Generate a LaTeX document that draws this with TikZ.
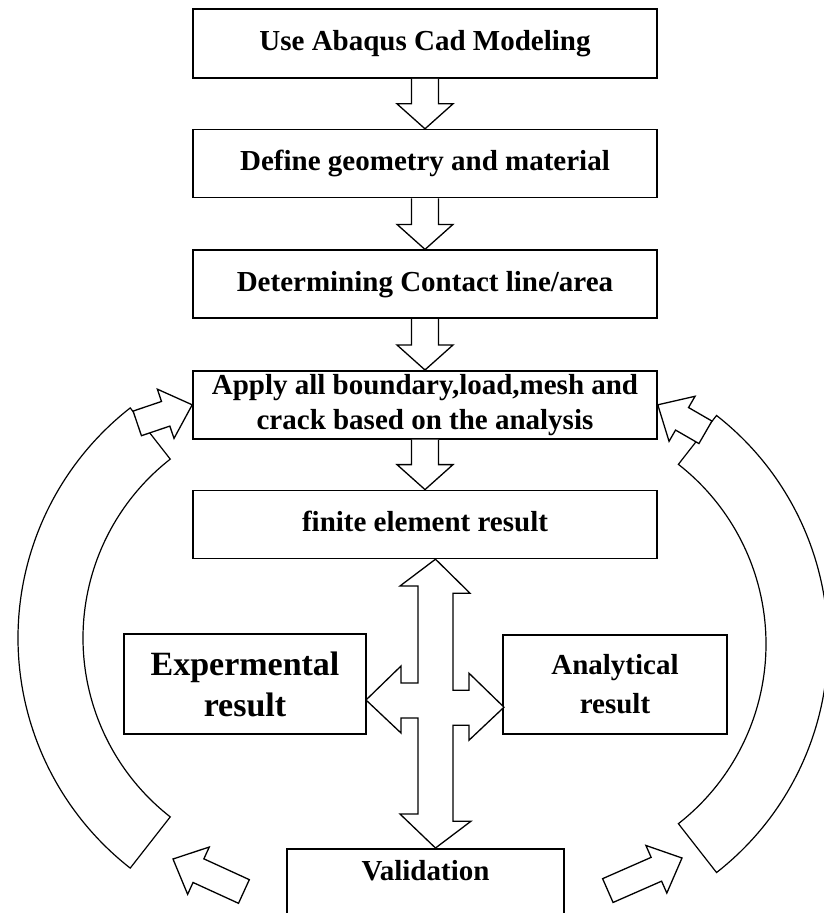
\documentclass[tikz,border=0pt]{standalone}
\usepackage{fontspec}
\setmainfont{Liberation Serif}
\usetikzlibrary{positioning, calc}

\tikzset{
  box/.style={draw, line width=1.6pt, minimum width=464pt, minimum height=68pt, inner sep=0pt, align=center, font=\fontsize{29}{35}\selectfont\bfseries},
  oneline/.style={text height=20pt, text depth=6pt},
  blk/.style={draw, line width=1.3pt, fill=white},
  band/.style={draw, line width=1.2pt, fill=white},
}

\begin{document}
\begin{tikzpicture}[x=1pt, y=1pt]
    \useasboundingbox (0,0) rectangle (824,-913);
    \clip (0,0) rectangle (824,-913);

    % Main chain of steps
    \node[box, oneline, minimum height=69pt] (use) at (425,-43.5) {Use Abaqus Cad Modeling};
    \node[box, oneline, below=50pt of use] (geom) {Define geometry and material};
    \node[box, oneline, below=51pt of geom] (contact) {Determining Contact line/area};
    \node[box, below=51pt of contact] (apply) {Apply all boundary,load,mesh and\\crack based on the analysis};
    \node[box, oneline, below=50pt of apply] (fem) {finite element result};

    % Side results and validation
    \node[box, minimum width=242pt, minimum height=100pt, font=\fontsize{34}{41}\selectfont\bfseries] (exper) at (245,-684) {Expermental\\result};
    \node[box, minimum width=224pt, minimum height=99pt, font=\fontsize{29}{39}\selectfont\bfseries] (analyt) at (615,-684.5) {Analytical\\result};
    \node[box, minimum width=277pt, anchor=north, inner ysep=12pt, text height=20pt, text depth=80pt] (valid) at (425.5,-848) {Validation};

    % Block arrows down the chain
    \foreach \a/\b in {use/geom, geom/contact, contact/apply, apply/fem}
        \draw[blk] ($(\a.south)+(-13.5,0)$) |- ($(\b.north)+(-28,25)$) -- (\b.north) -- ($(\b.north)+(28,25)$) -| ($(\a.south)+(13.5,0)$);

    % Four-way arrow between the results
    \coordinate (hub) at (435.5,-700.5);
    \draw[blk] (fem.south -| hub) -- ++(34.5,-34) -- ++(-17,0) -- ++(0,-97) -- ++(16,0) -- ++(0,17)
        -- ++(35,-34) -- ++(-35,-33) -- ++(0,15) -- ++(-16,0) -- ++(0,-96) -- ++(18,0)
        -- (valid.north -| hub) -- ++(-35.5,34) -- ++(18,0) -- ++(0,96) -- ++(-17,0) -- ++(0,-15)
        -- ++(-35,33) -- ++(35,34) -- ++(0,-17) -- ++(17,0) -- ++(0,97) -- ++(-18,0) -- cycle;

    % Curved feedback bands
    \coordinate (lc) at (310,-638);
    \draw[band] ($(lc)+(128:292)$) arc[start angle=128, end angle=232, radius=292]
        -- ($(lc)+(232:227)$) arc[start angle=232, end angle=128, radius=227] -- cycle;
    \coordinate (rc) at (538,-644);
    \draw[band] ($(rc)+(52:290)$) arc[start angle=52, end angle=-52, radius=290]
        -- ($(rc)+(-52:228)$) arc[start angle=-52, end angle=52, radius=228] -- cycle;

    % Small arrows at the band ends
    \coordinate (lt) at (apply.west);
    \coordinate (rt) at (apply.east);
    \coordinate (lb) at (173,-859);
    \coordinate (rb) at (682,-858);
    \foreach \p/\ang/\len in {lt/18.7/58, rt/150/55, lb/155.4/78, rb/23.7/81}{
        \begin{scope}[shift={(\p)}, rotate=\ang]
            \draw[blk] (0,0) -- (-28,26) -- (-28,13) -- (-\len,13) -- (-\len,-13) -- (-28,-13) -- (-28,-26) -- cycle;
        \end{scope}
    }

\end{tikzpicture}
\end{document}
